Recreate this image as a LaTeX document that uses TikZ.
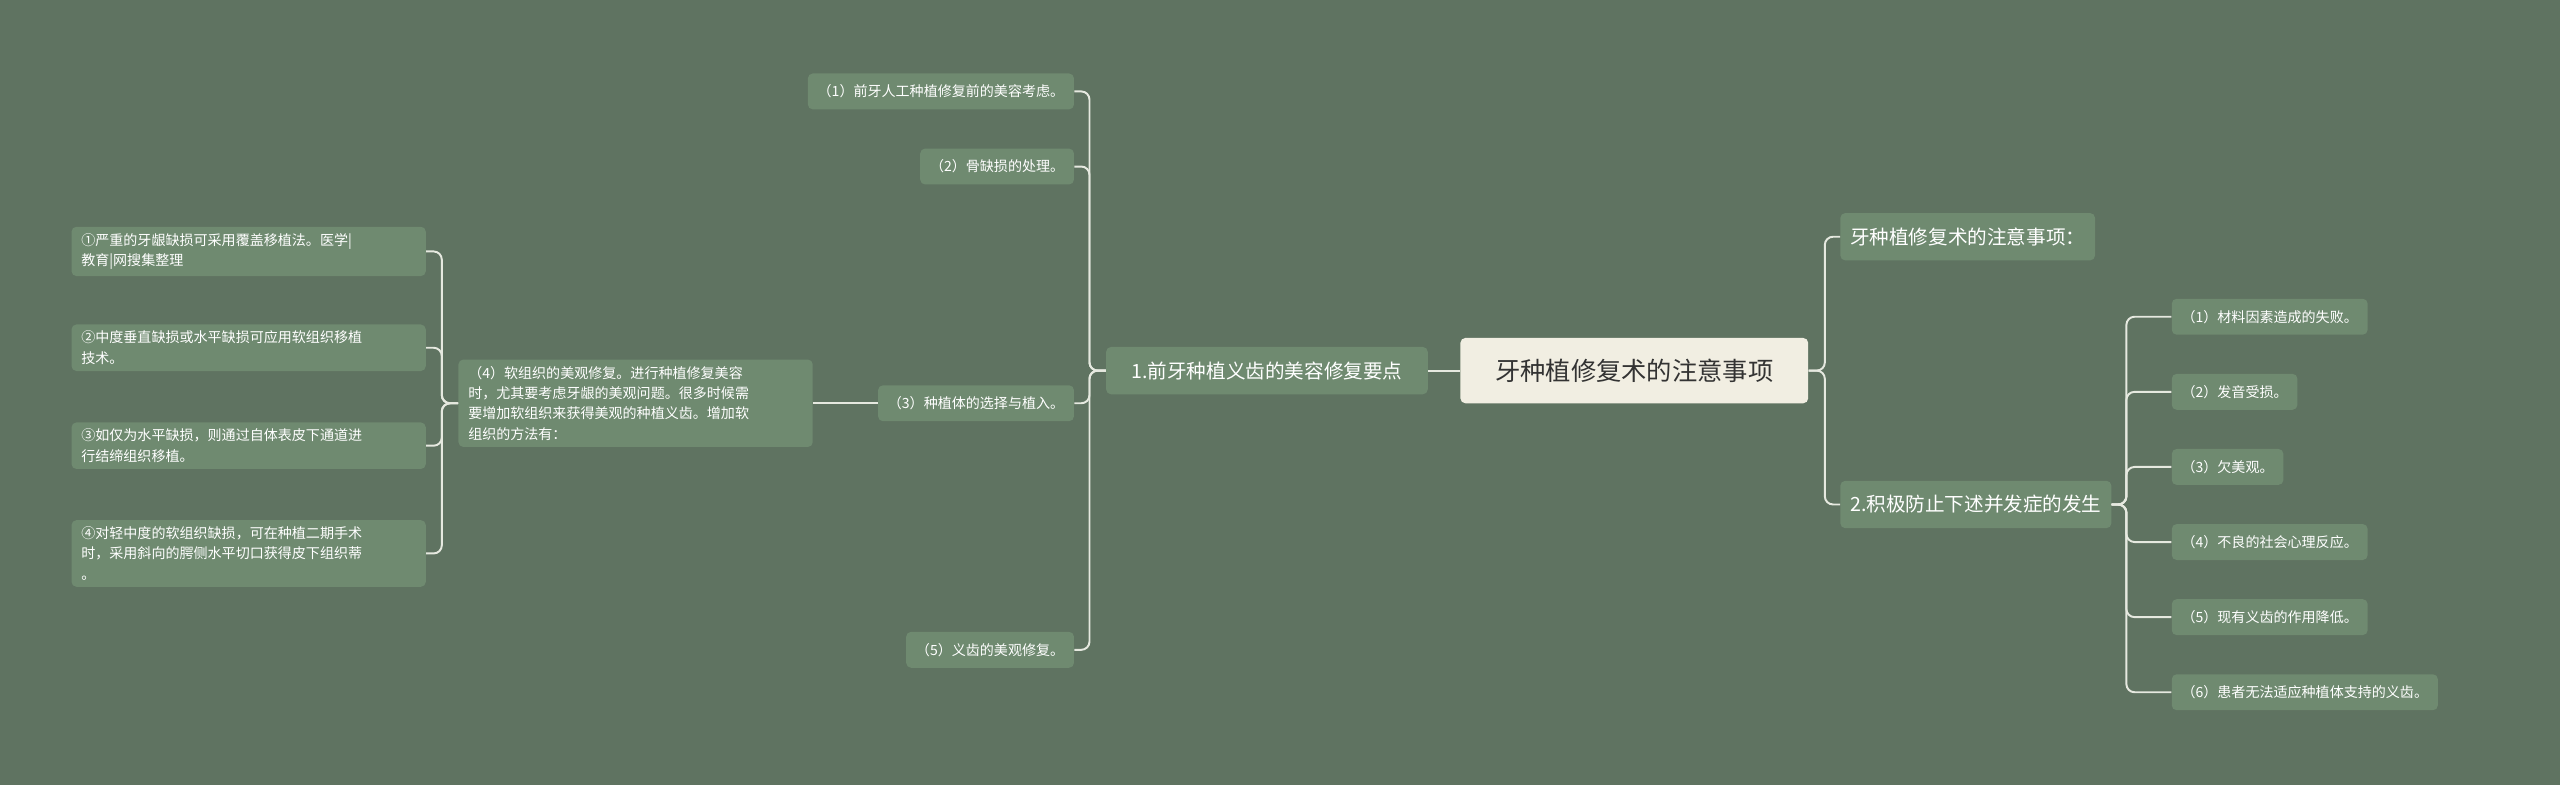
\documentclass[tikz,border=0pt]{standalone}
\usepackage{fontspec}
\setmainfont{Noto Sans CJK SC}
\begin{document}
\begin{tikzpicture}[x=1pt,y=-1pt,
  leaf/.style={fill=leafc,rounded corners=3pt,text=white,font=\fontsize{8.6}{12.5}\selectfont,inner xsep=6pt,inner ysep=4pt,minimum height=22pt,align=left},
  mid/.style={fill=leafc,rounded corners=3pt,text=white,font=\fontsize{12}{14}\selectfont,inner xsep=6pt,minimum height=29pt},
  con/.style={draw=linec,line width=1.2pt,rounded corners=5pt}]
\definecolor{bgc}{HTML}{5F7361}
\definecolor{leafc}{HTML}{6F8A70}
\definecolor{linec}{HTML}{E6E9E0}
\definecolor{cenc}{HTML}{F1EEE2}
\fill[bgc] (0,0) rectangle (1568,481);
\useasboundingbox (0,0) rectangle (1568,481);
\node[fill=cenc,rounded corners=3pt,text=black!80,font=\fontsize{15.5}{18}\selectfont,minimum width=213pt,minimum height=40pt] (c) at (1001,227) {牙种植修复术的注意事项};
\node[mid,minimum width=197pt] (l1) at (776,227) {1.前牙种植义齿的美容修复要点};
\node[mid,anchor=west] (r1) at (1127,145) {牙种植修复术的注意事项：};
\node[mid,anchor=west] (r2) at (1127,309) {2.积极防止下述并发症的发生};
\foreach \i/\y/\t in {1/194/（1）材料因素造成的失败。,2/240/（2）发音受损。,3/286/（3）欠美观。,4/332/（4）不良的社会心理反应。,5/378/（5）现有义齿的作用降低。,6/424/（6）患者无法适应种植体支持的义齿。}
  \node[leaf,anchor=west] (rc\i) at (1330,\y) {\t};
\node[leaf,anchor=east] (a1) at (658,56) {（1）前牙人工种植修复前的美容考虑。};
\node[leaf,anchor=east] (a2) at (658,102) {（2）骨缺损的处理。};
\node[leaf,anchor=east] (a3) at (658,247) {（3）种植体的选择与植入。};
\node[leaf,anchor=east] (a5) at (658,398) {（5）义齿的美观修复。};
\node[leaf,anchor=east,text width=205pt] (a4) at (498,247) {（4）软组织的美观修复。进行种植修复美容\\时，尤其要考虑牙龈的美观问题。很多时候需\\要增加软组织来获得美观的种植义齿。增加软\\组织的方法有：};
\node[leaf,anchor=east,text width=205pt] (b1) at (261,154) {①严重的牙龈缺损可采用覆盖移植法。医学|\\教育|网搜集整理};
\node[leaf,anchor=east,text width=205pt] (b2) at (261,213) {②中度垂直缺损或水平缺损可应用软组织移植\\技术。};
\node[leaf,anchor=east,text width=205pt] (b3) at (261,273) {③如仅为水平缺损，则通过自体表皮下通道进\\行结缔组织移植。};
\node[leaf,anchor=east,text width=205pt] (b4) at (261,339) {④对轻中度的软组织缺损，可在种植二期手术\\时，采用斜向的腭侧水平切口获得皮下组织蒂\\。};
\draw[con] (c.west) -- (l1.east);
\foreach \n in {r1,r2} \draw[con] (c.east) -- ++(10,0) |- (\n.west);
\foreach \n in {1,...,6} \draw[con] (r2.east) -- ++(9,0) |- (rc\n.west);
\foreach \n in {a1,a2,a3,a5} \draw[con] (l1.west) -- ++(-10,0) |- (\n.east);
\draw[con] (a4.east) -- (a3.west);
\foreach \n in {b1,b2,b3,b4} \draw[con] (a4.west) -- ++(-10,0) |- (\n.east);
\end{tikzpicture}
\end{document}
